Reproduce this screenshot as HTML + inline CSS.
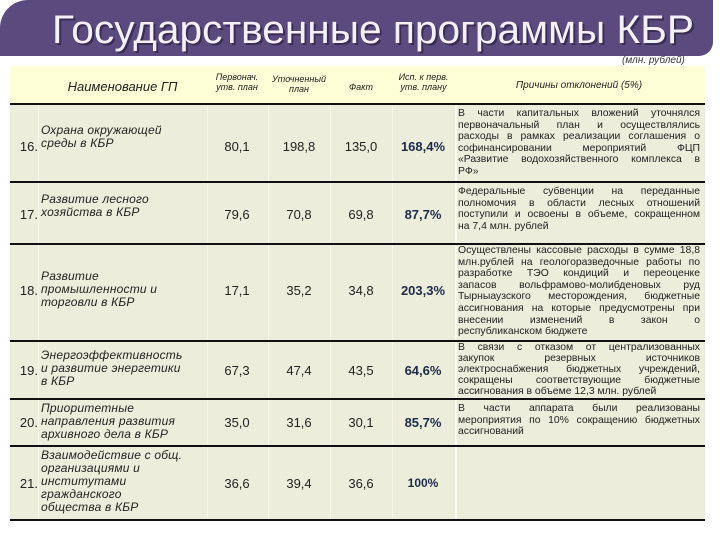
<!DOCTYPE html>
<html><head><meta charset="utf-8">
<style>
body{margin:0;width:720px;height:540px;background:#fff;position:relative;overflow:hidden;font-family:"Liberation Sans","DejaVu Sans",sans-serif;}
.abs{position:absolute;}
.band{left:0;top:0;width:713px;height:56px;background:#5b4a7d;border-top-left-radius:28px;border-bottom-right-radius:14px;}
.hdr{left:10px;top:66px;width:695px;height:38px;background:#fdfdd6;}
.body{left:10px;top:104px;width:695px;height:416px;background:#ecedda;}
.hl{left:10px;width:695px;height:2px;background:#111;}
.vl{top:104px;width:1px;height:416px;background:#f6f6ea;}
.h{font-style:italic;font-size:9px;color:#222;text-align:center;}
.name{font-style:italic;font-size:12px;color:#222;line-height:13px;left:41px;width:165px;letter-spacing:0.2px;}
.num{font-size:13px;color:#222;left:10px;width:28px;text-align:right;}
.val{font-size:13px;color:#222;text-align:center;}
.pct{font-size:13px;font-weight:bold;color:#1d2a4a;text-align:center;left:392px;width:62px;}
.rs{left:458px;width:242px;font-size:10.4px;line-height:11.6px;color:#222;}
.rs div{text-align:justify;text-align-last:justify;white-space:nowrap;}
.rs div.l{text-align-last:left;}
</style></head><body>
<div class="abs band"></div>
<svg class="abs" style="left:0;top:0" width="720" height="60">
<text x="52" y="43" font-family="Liberation Sans, sans-serif" font-size="40" fill="#3a2d55" textLength="642" lengthAdjust="spacingAndGlyphs" transform="translate(2,2)">Государственные программы КБР</text>
<text x="52" y="43" font-family="Liberation Sans, sans-serif" font-size="40" fill="#f4f0f8" textLength="642" lengthAdjust="spacingAndGlyphs">Государственные программы КБР</text>
</svg>
<div class="abs" style="left:622px;top:55px;font-size:10px;font-style:italic;color:#333">(млн. рублей)</div>
<div class="abs hdr"></div>
<div class="abs body"></div>
<div class="abs vl" style="left:38px"></div>
<div class="abs vl" style="left:207px"></div>
<div class="abs vl" style="left:268px"></div>
<div class="abs vl" style="left:330px"></div>
<div class="abs vl" style="left:392px"></div>
<div class="abs vl" style="left:455px;background:#fafaf0;width:2px"></div>

<div class="abs h" style="left:40px;top:79px;width:165px;font-size:13px">Наименование ГП</div>
<div class="abs h" style="left:207px;top:72px;width:60px">Первонач.<br>утв. план</div>
<div class="abs h" style="left:268px;top:74px;width:62px">Уточненный<br>план</div>
<div class="abs h" style="left:330px;top:82px;width:62px">Факт</div>
<div class="abs h" style="left:392px;top:72px;width:63px">Исп. к перв.<br>утв. плану</div>
<div class="abs h" style="left:458px;top:80px;width:242px;font-size:10px">Причины отклонений (5%)</div>

<div class="abs hl" style="top:103px"></div>
<div class="abs hl" style="top:181px"></div>
<div class="abs hl" style="top:243px"></div>
<div class="abs hl" style="top:340px"></div>
<div class="abs hl" style="top:398px"></div>
<div class="abs hl" style="top:445px"></div>
<div class="abs hl" style="top:519px"></div>

<div class="abs num" style="top:139px">16.</div>
<div class="abs name" style="top:124px">Охрана окружающей<br>среды в КБР</div>
<div class="abs val" style="left:207px;width:60px;top:139px">80,1</div>
<div class="abs val" style="left:268px;width:62px;top:139px">198,8</div>
<div class="abs val" style="left:330px;width:62px;top:139px">135,0</div>
<div class="abs pct" style="top:139px">168,4%</div>
<div class="abs rs" style="top:108px"><div>В части капитальных вложений уточнялся</div><div>первоначальный план и осуществлялись</div><div>расходы в рамках реализации соглашения о</div><div>софинансировании мероприятий ФЦП</div><div>«Развитие водохозяйственного комплекса в</div><div class="l">РФ»</div></div>

<div class="abs num" style="top:207px">17.</div>
<div class="abs name" style="top:193px">Развитие лесного<br>хозяйства в КБР</div>
<div class="abs val" style="left:207px;width:60px;top:207px">79,6</div>
<div class="abs val" style="left:268px;width:62px;top:207px">70,8</div>
<div class="abs val" style="left:330px;width:62px;top:207px">69,8</div>
<div class="abs pct" style="top:207px">87,7%</div>
<div class="abs rs" style="top:186px"><div>Федеральные субвенции на переданные</div><div>полномочия в области лесных отношений</div><div>поступили и освоены в объеме, сокращенном</div><div class="l">на 7,4 млн. рублей</div></div>

<div class="abs num" style="top:283px">18.</div>
<div class="abs name" style="top:270px">Развитие<br>промышленности и<br>торговли в КБР</div>
<div class="abs val" style="left:207px;width:60px;top:283px">17,1</div>
<div class="abs val" style="left:268px;width:62px;top:283px">35,2</div>
<div class="abs val" style="left:330px;width:62px;top:283px">34,8</div>
<div class="abs pct" style="top:283px">203,3%</div>
<div class="abs rs" style="top:245px"><div>Осуществлены кассовые расходы в сумме 18,8</div><div>млн.рублей на геологоразведочные работы по</div><div>разработке ТЭО кондиций и переоценке</div><div>запасов вольфрамово-молибденовых руд</div><div>Тырныаузского месторождения, бюджетные</div><div>ассигнования на которые предусмотрены при</div><div>внесении изменений в закон о</div><div class="l">республиканском бюджете</div></div>

<div class="abs num" style="top:363px">19.</div>
<div class="abs name" style="top:349px">Энергоэффективность<br>и развитие энергетики<br>в КБР</div>
<div class="abs val" style="left:207px;width:60px;top:363px">67,3</div>
<div class="abs val" style="left:268px;width:62px;top:363px">47,4</div>
<div class="abs val" style="left:330px;width:62px;top:363px">43,5</div>
<div class="abs pct" style="top:363px">64,6%</div>
<div class="abs rs" style="top:342px;line-height:11px"><div>В связи с отказом от централизованных</div><div>закупок резервных источников</div><div>электроснабжения бюджетных учреждений,</div><div>сокращены соответствующие бюджетные</div><div class="l">ассигнования в объеме 12,3 млн. рублей</div></div>

<div class="abs num" style="top:415px">20.</div>
<div class="abs name" style="top:402px">Приоритетные<br>направления развития<br>архивного дела в КБР</div>
<div class="abs val" style="left:207px;width:60px;top:415px">35,0</div>
<div class="abs val" style="left:268px;width:62px;top:415px">31,6</div>
<div class="abs val" style="left:330px;width:62px;top:415px">30,1</div>
<div class="abs pct" style="top:415px">85,7%</div>
<div class="abs rs" style="top:403px"><div>В части аппарата были реализованы</div><div>мероприятия по 10% сокращению бюджетных</div><div class="l">ассигнований</div></div>

<div class="abs num" style="top:476px">21.</div>
<div class="abs name" style="top:449px">Взаимодействие с общ.<br>организациями и<br>институтами<br>гражданского<br>общества в КБР</div>
<div class="abs val" style="left:207px;width:60px;top:476px">36,6</div>
<div class="abs val" style="left:268px;width:62px;top:476px">39,4</div>
<div class="abs val" style="left:330px;width:62px;top:476px">36,6</div>
<div class="abs pct" style="top:476px;font-size:12px">100%</div>
</body></html>
